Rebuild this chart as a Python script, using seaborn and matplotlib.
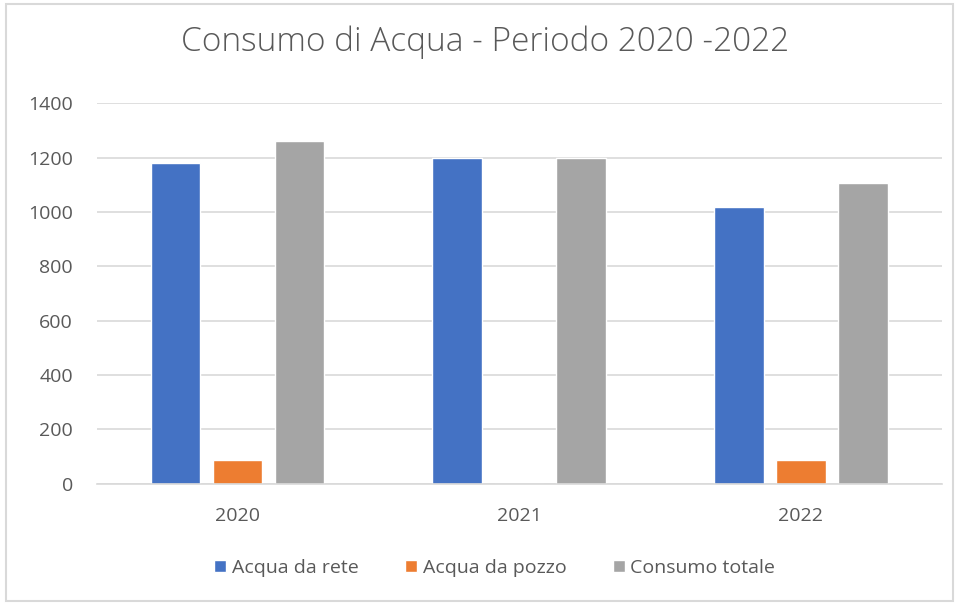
import matplotlib
matplotlib.use('agg')
import matplotlib.pyplot as plt
from matplotlib.patches import Rectangle
import seaborn as sns
import pandas as pd

anni = ['2020', '2021', '2022']
acqua_rete = [1180, 1200, 1020]
acqua_pozzo = [88, 0, 88]
consumo_totale = [1262, 1200, 1105]
serie = ['Acqua da rete', 'Acqua da pozzo', 'Consumo totale']
colori = ['#4472C4', '#ED7D31', '#A5A5A5']

df = pd.DataFrame({
    'anno': anni * 3,
    'serie': [s for s in serie for _ in anni],
    'valore': acqua_rete + acqua_pozzo + consumo_totale,
})

sns.set_theme(style='white')
plt.rcParams['font.family'] = ['Open Sans', 'DejaVu Sans']
testo = '#595959'

fig = plt.figure(figsize=(9.57, 6.04), dpi=100)
ax = fig.add_axes([0.101, 0.199, 0.883, 0.630])

sns.barplot(data=df, x='anno', y='valore', hue='serie', palette=colori,
            width=0.66, gap=0.2, ax=ax, saturation=1, legend=True)

ax.set_ylim(0, 1400)
ax.set_yticks(range(0, 1401, 200))
ax.set_xlim(-0.5, 2.5)
ax.yaxis.grid(True, color='#d9d9d9', linewidth=1.2)
ax.set_axisbelow(True)
for s in ['top', 'right', 'left']:
    ax.spines[s].set_visible(False)
ax.spines['bottom'].set_color('#d9d9d9')
ax.spines['bottom'].set_linewidth(1.2)
ax.tick_params(axis='both', length=0, labelsize=14, labelcolor=testo)
ax.tick_params(axis='y', pad=17)
ax.tick_params(axis='x', pad=17)
ax.set_xlabel('')
ax.set_ylabel('')

fig.suptitle('Consumo di Acqua - Periodo 2020 -2022', x=0.507, y=0.958,
             fontsize=24, color=testo, fontweight='light')

handles, labels = ax.get_legend_handles_labels()
ax.legend_.remove()
fig.legend(handles, labels, loc='center', bbox_to_anchor=(0.517, 0.06),
           ncol=3, frameon=False, fontsize=14, labelcolor=testo,
           handlelength=0.6, handleheight=0.6, handletextpad=0.3,
           columnspacing=2.4)

fig.patches.append(Rectangle((0.006, 0.005), 0.99, 0.988, transform=fig.transFigure,
                             fill=False, edgecolor='#d9d9d9', linewidth=1.5))

plt.savefig('out.png', dpi=100)
